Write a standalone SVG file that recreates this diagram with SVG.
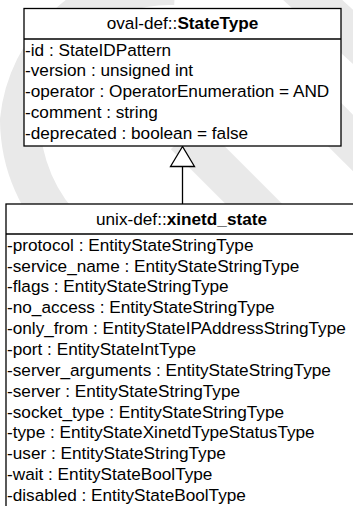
<svg xmlns="http://www.w3.org/2000/svg" width="353" height="506" viewBox="0 0 353 506">
<style>
.box{fill:#fff;stroke:#000;stroke-width:1.3}
.div{stroke:#000;stroke-width:1.3}
.t{font-family:"Liberation Sans",Arial,sans-serif;font-size:17.2px;fill:#000}
.h{text-anchor:middle}
.b{font-weight:bold}
.wm{fill:none;stroke:#e9e9e9;stroke-width:40}
</style>
<rect width="353" height="506" fill="#fff"/>
<g id="watermark">
<path class="wm" d="M175,-15 A150,150 0 0 0 20,120 A160,160 0 0 0 70,235"/>
<path class="wm" d="M280,-30 L400,80"/>
<path class="wm" d="M185,135 L290,240"/>
<path class="wm" d="M320,110 L370,160"/>
</g>
<g id="connectors">
<line x1="182.5" y1="166.5" x2="182.5" y2="204" stroke="#000" stroke-width="1.3"/>
<polygon points="182.5,146.5 170.5,166.5 194.5,166.5" fill="#fff" stroke="#000" stroke-width="1.3"/>
</g>
<g id="StateType">
<rect class="box" x="24" y="8.5" width="317" height="137.5"/>
<line class="div" x1="24" y1="39" x2="341" y2="39"/>
<text class="t h" x="182.5" y="29">oval-def::<tspan class="b">StateType</tspan></text>
<text class="t" x="25" y="55.5">-id : StateIDPattern</text>
<text class="t" x="25" y="76.4">-version : unsigned int</text>
<text class="t" x="25" y="97.2">-operator : OperatorEnumeration = AND</text>
<text class="t" x="25" y="118.1">-comment : string</text>
<text class="t" x="25" y="138.9">-deprecated : boolean = false</text>
</g>
<g id="xinetd_state">
<rect class="box" x="6" y="204" width="352" height="320"/>
<line class="div" x1="6" y1="234" x2="358" y2="234"/>
<text class="t h" x="181.5" y="224.5">unix-def::<tspan class="b">xinetd_state</tspan></text>
<text class="t" x="7" y="250.7">-protocol : EntityStateStringType</text>
<text class="t" x="7" y="271.6">-service_name : EntityStateStringType</text>
<text class="t" x="7" y="292.4">-flags : EntityStateStringType</text>
<text class="t" x="7" y="313.3">-no_access : EntityStateStringType</text>
<text class="t" x="7" y="334.1">-only_from : EntityStateIPAddressStringType</text>
<text class="t" x="7" y="355">-port : EntityStateIntType</text>
<text class="t" x="7" y="375.9">-server_arguments : EntityStateStringType</text>
<text class="t" x="7" y="396.7">-server : EntityStateStringType</text>
<text class="t" x="7" y="417.6">-socket_type : EntityStateStringType</text>
<text class="t" x="7" y="438.4">-type : EntityStateXinetdTypeStatusType</text>
<text class="t" x="7" y="459.3">-user : EntityStateStringType</text>
<text class="t" x="7" y="480.1">-wait : EntityStateBoolType</text>
<text class="t" x="7" y="501">-disabled : EntityStateBoolType</text>
</g>
</svg>
